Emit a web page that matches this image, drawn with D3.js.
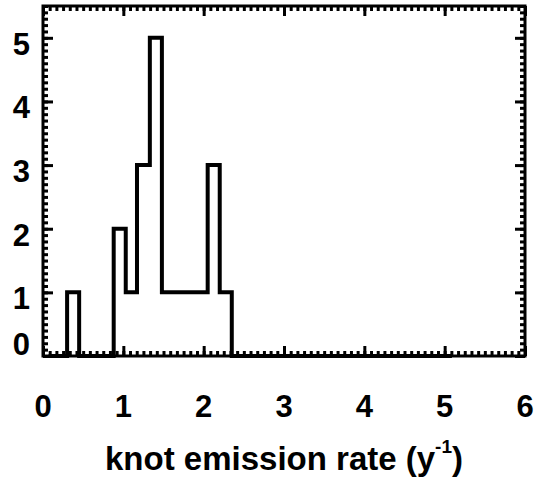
<!DOCTYPE html>
<html>
<head>
<meta charset="utf-8">
<script src="https://cdn.jsdelivr.net/npm/d3@7"></script>
<style>
  body { margin: 0; background: #fff; }
  text { font-family: "Liberation Sans", Arial, Helvetica, sans-serif; font-weight: bold; }
</style>
</head>
<body>
<svg></svg>
<script>
// histogram steps: bin edges and the count in each bin between them
const binEdges = [0.07, 0.30, 0.45, 0.88, 1.03, 1.17, 1.33, 1.48, 2.05, 2.20, 2.35, 5.09];
const binCounts = [0, 1, 0, 2, 1, 3, 5, 1, 3, 1, 0];

const xTicks = [0, 1, 2, 3, 4, 5, 6];
const yTicks = [0, 1, 2, 3, 4, 5];
const xTitle = 'knot emission rate (y';
const xTitleSup = '-1';

const width = 537;
const height = 480;
const plotLeft = 43, plotRight = 525, plotTop = 6, plotBottom = 356;

const svg = d3.select('svg')
    .attr('width', width)
    .attr('height', height);

const x = d3.scaleLinear().domain([0, 6]).range([plotLeft, plotRight]);
const y = d3.scaleLinear().domain([0, 5.5]).range([plotBottom, plotTop]);

const xMinor = d3.range(0, 6.0001, 1 / 12);
const yMinor = y.ticks(55);

// ticks point inward on all four sides
function ticks(makeAxis, scale, pos, minor, major) {
  [[minor, 5], [major, 10]].forEach(([values, len]) => {
    svg.append('g')
        .attr('transform', pos)
        .call(makeAxis(scale).tickValues(values).tickSize(-len).tickFormat(''))
        .call(g => g.select('.domain').remove())
        .selectAll('line').attr('stroke-width', 3);
  });
}

ticks(d3.axisBottom, x, `translate(0,${plotBottom})`, xMinor, xTicks);
ticks(d3.axisTop, x, `translate(0,${plotTop})`, xMinor, xTicks);
ticks(d3.axisLeft, y, `translate(${plotLeft},0)`, yMinor, yTicks);
ticks(d3.axisRight, y, `translate(${plotRight},0)`, yMinor, yTicks);

svg.append('rect')
    .attr('x', plotLeft)
    .attr('y', plotTop)
    .attr('width', plotRight - plotLeft)
    .attr('height', plotBottom - plotTop)
    .attr('fill', 'none')
    .attr('stroke', '#000')
    .attr('stroke-width', 3);

// histogram outline
const points = binEdges.map((e, i) => [e, i < binCounts.length ? binCounts[i] : binCounts[binCounts.length - 1]]);
const line = d3.line()
    .x(d => x(d[0]))
    .y(d => y(d[1]))
    .curve(d3.curveStepAfter);

svg.append('path')
    .datum(points)
    .attr('d', line)
    .attr('fill', 'none')
    .attr('stroke', '#000')
    .attr('stroke-width', 4)
    .attr('stroke-linejoin', 'miter');

// tick labels
svg.append('g')
  .selectAll('text')
  .data(xTicks)
  .join('text')
    .attr('x', d => x(d))
    .attr('y', 417)
    .attr('text-anchor', 'middle')
    .attr('font-size', 31)
    .text(d => d);

svg.append('g')
  .selectAll('text')
  .data(yTicks)
  .join('text')
    .attr('x', 30)
    .attr('y', d => Math.min(y(d) + 17, plotBottom - 1))
    .attr('text-anchor', 'end')
    .attr('font-size', 31)
    .text(d => d);

// axis title with superscript
const title = svg.append('text')
    .attr('x', (plotLeft + plotRight) / 2)
    .attr('y', 470)
    .attr('text-anchor', 'middle')
    .attr('font-size', 33);
title.append('tspan').text(xTitle);
title.append('tspan')
    .attr('font-size', 19)
    .attr('dy', -17)
    .text(xTitleSup);
title.append('tspan')
    .attr('dy', 17)
    .text(')');
</script>
</body>
</html>
